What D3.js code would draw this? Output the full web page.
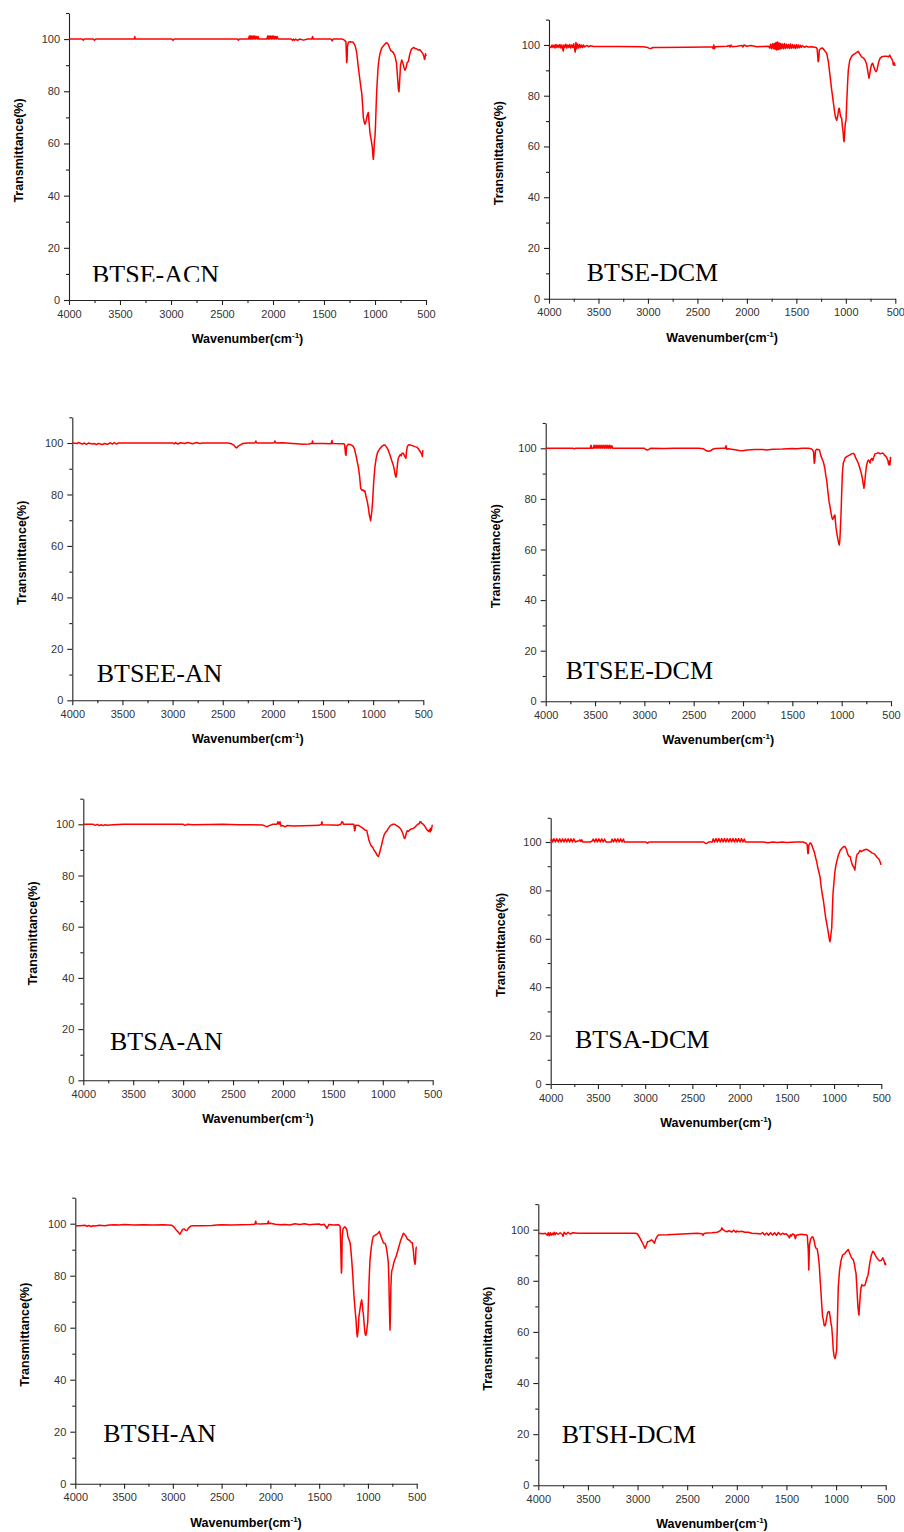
<!DOCTYPE html>
<meta charset="utf-8">

<!-- Load d3.js -->
<script src="https://d3js.org/d3.v7.min.js"></script>

<style>
  body { margin: 0; background: #fff; }
  .tick text { font: 11px Arial, "Liberation Sans", sans-serif; fill: #333; }
  .tick line, .domain { stroke: #222; stroke-width: 1.1; }
  .axis-title { font: bold 12.5px Arial, "Liberation Sans", sans-serif; fill: #000; }
  .sample { font: 26px "Liberation Serif", "Times New Roman", serif; fill: #000; }
  .spectrum { fill: none; stroke: #ff0000; stroke-width: 1.5; stroke-linejoin: round; }
</style>

<!-- Create a div where the graph will take place -->
<div id="chart"></div>

<script>

  // sample names, in panel order (left to right, top to bottom)
  const samples = ["BTSE-ACN", "BTSE-DCM", "BTSEE-AN", "BTSEE-DCM", "BTSA-AN", "BTSA-DCM", "BTSH-AN", "BTSH-DCM"];

  // tick labels
  const xTicks = [4000, 3500, 3000, 2500, 2000, 1500, 1000, 500];
  const xMinor = [3750, 3250, 2750, 2250, 1750, 1250, 750];
  const yTicks = [0, 20, 40, 60, 80, 100];
  const yMinor = [10, 30, 50, 70, 90, 110];

  // spectra: [wavenumber (cm-1), transmittance (%)]
  const btseAcn = [
    [4000,100],[3870,100],[3860,99.6],[3850,100],[3760,100],[3750,99.5],[3740,100],[3360,100],[3355,101],[3350,100],
    [2990,100],[2980,99.5],[2970,100],[2350,100],[2340,99.6],[2330,100],
    [2240,100],[2232,101.2],[2226,100],[2220,101.2],[2214,100],[2208,101.2],[2200,100],[2192,101.2],[2186,100],[2178,101.2],
    [2170,100],[2162,101],[2154,100],[2146,101],[2140,100],
    [2060,100],[2052,101.2],[2046,100],[2040,101.2],[2032,100],[2024,101.2],[2016,100],[2008,101.2],[2000,100],[1992,101.2],
    [1984,100],[1976,101],[1968,100],[1960,101],[1950,100],
    [1820,100],[1810,99.5],[1800,100],[1790,99.5],[1780,100],[1760,99.5],[1740,100],[1700,99.6],[1660,100],[1620,100],
    [1612,101],[1605,100],[1430,100],[1420,99.3],[1410,100],[1320,100],[1300,99.6],
    [1285,99],[1278,91],[1274,92],[1270,97],[1262,98.8],[1240,99],[1215,98.8],[1195,97.5],[1180,95],[1164,89.4],[1150,85],
    [1140,82],[1130,79.2],[1120,74],[1115,70.2],[1105,68],[1098,67.4],[1088,68.5],[1075,71],[1066,71.9],[1058,68],[1049,63.9],
    [1040,62],[1032,60],[1025,58],[1020,55],[1016,53.9],[1012,56],[1006,61],[1000,62.6],[995,67],[990,73],[983,80.5],[970,89],
    [960,92.5],[951,94.5],[935,96.5],[915,97.5],[895,98.4],[885,98.6],[875,98.2],[860,97],[845,95.5],[836,95.4],[820,94.8],
    [804,93.4],[790,91],[780,86],[770,80.5],[765,79.8],[758,84],[750,90],[738,92],[728,91],[715,89],[706,88.1],[695,89],
    [685,91],[673,91.4],[660,94],[645,96],[624,96.8],[605,96.4],[590,96.2],[575,95.8],[560,95.9],[545,95.2],[530,94.3],
    [520,93.2],[515,92.2],[510,92.6],[505,94.4],[500,93.5]
  ];

  const btseDcm = [
    [4000,99.5],[3980,99],[3970,100],[3960,99],[3950,100],[3940,98.8],[3930,100.2],[3920,99],[3910,100],[3900,99],
    [3890,100.2],[3880,98.8],[3870,100],[3860,98.2],[3855,97.6],[3850,100],[3840,99],[3830,100.3],[3820,98.8],[3810,100],
    [3800,99],[3790,100.2],[3780,98.8],[3770,100],[3760,99],[3750,100.5],[3740,98],[3735,97.2],[3728,101],[3720,98.5],
    [3712,100.4],[3700,98.8],[3690,100.2],[3680,99],[3670,100],[3660,99],[3650,100],[3640,99.2],[3620,99.8],[3600,99.3],
    [3580,99.7],[3550,99.4],[3300,99.4],[3050,99.3],[3000,99],[2990,98.7],[2970,98.6],[2950,99],[2900,99],[2600,99.1],
    [2400,99.2],[2350,99.2],[2340,98.6],[2335,100],[2328,98.5],[2320,99.3],[2200,99.5],[2180,99.8],[2170,99.2],[2160,100],
    [2150,99.3],[2100,99.5],[2050,99.8],[2040,99.2],[2030,100],[2000,99.5],[1960,99.8],[1900,99.3],[1850,99.4],
    [1780,99.5],[1770,98.8],[1760,100.3],[1750,98.5],[1740,100.5],[1730,98.6],[1722,100.6],[1714,98.3],[1706,101],[1698,98],
    [1690,101.2],[1682,98.2],[1674,100.8],[1666,98.4],[1658,100.6],[1650,98.6],[1640,100.4],[1630,98.5],[1620,100.6],
    [1610,98.6],[1600,100.3],[1590,98.8],[1580,100.2],[1570,98.6],[1560,100.4],[1550,98.7],[1540,100.2],[1530,98.8],
    [1520,100],[1510,98.6],[1500,100.1],[1490,98.8],[1480,100],[1470,98.9],[1460,99.9],[1450,99],[1440,99.8],[1420,99.1],
    [1400,99.5],[1380,99.2],[1340,99.3],[1300,99],
    [1290,98.5],[1280,93.4],[1274,94],[1268,98],[1250,98.7],[1235,98.8],[1215,97.8],[1193,96.7],[1175,93],[1160,88],
    [1143,82.3],[1125,77],[1109,72.4],[1100,71],[1092,70.3],[1082,72],[1072,74.8],[1066,75],[1058,73],[1050,71.5],
    [1042,71.1],[1035,68],[1028,66],[1022,62.5],[1018,61.9],[1012,65],[1006,69],[998,70.3],[990,78],[982,85],[975,90.1],
    [960,94],[940,95.6],[924,96.2],[900,96.8],[874,97.5],[860,96.5],[840,95.3],[820,94.8],[806,94.1],[790,92.5],[775,89],
    [766,86.9],[758,88.5],[748,91],[738,92.5],[728,92.8],[718,91.5],[705,90],[695,89.5],[685,90.2],[670,93],[655,94.7],
    [635,95.4],[610,95.6],[587,95.6],[570,95.3],[556,96],[545,95],[535,94.5],[525,93.5],[520,92.1],[512,93],[505,92],[500,92.3]
  ];

  const btseeAn = [
    [4000,100],[3950,99.8],[3940,100.2],[3900,99.6],[3880,100],[3860,99.5],[3840,100],[3800,99.6],[3780,99.8],[3760,99.4],
    [3740,99.8],[3700,99.4],[3680,99.8],[3650,99.5],[3620,100.1],[3600,99.6],[3580,100.2],[3560,99.6],[3540,100],[3000,100],
    [2980,99.7],[2970,100.2],[2950,99.6],[2920,100.1],[2880,99.8],[2850,100.2],[2800,99.7],[2760,100.2],[2730,99.8],
    [2700,100],[2450,100],[2420,99.8],[2390,99.2],[2370,98.3],[2361,98.1],[2345,98.8],[2320,99.4],[2300,99.8],[2250,100],
    [2180,100],[2170,100.8],[2160,100],[2100,100],[1990,100],[1980,100.8],[1970,100],[1900,100.1],[1800,99.8],[1700,99.5],
    [1640,99.6],[1610,99.9],[1605,100.8],[1600,99.8],[1500,99.8],[1420,99.7],[1410,101],[1405,99.8],[1300,99.7],
    [1285,99.5],[1275,95.5],[1270,95.3],[1266,98.5],[1250,99.5],[1230,99.4],[1215,99.2],[1198,98.7],[1185,97.5],[1170,95],
    [1160,93],[1148,90.8],[1135,87],[1124,82.3],[1110,81.6],[1100,81.8],[1090,81.2],[1082,81.4],[1070,79],[1060,77.5],
    [1049,75.2],[1040,72.5],[1032,71],[1025,69.8],[1018,72],[1012,74],[1005,77.6],[996,84],[988,88],[982,90.8],[970,94],
    [955,96.5],[932,97.9],[910,98.8],[895,99.2],[882,99.2],[868,98.5],[850,97.3],[832,95.3],[815,93.2],[800,91.5],
    [788,89.5],[780,87.5],[772,86.7],[765,88.5],[757,92],[749,94.1],[740,94.8],[730,95.5],[720,95],[712,96],[699,96],
    [690,95.2],[680,94.5],[673,94.1],[668,96.5],[660,98.5],[650,99.2],[630,99.3],[610,99],[583,98.6],[565,98.4],[550,97.8],
    [540,97.2],[530,96.6],[520,96],[516,95.8],[510,94.8],[505,97],[500,96.8]
  ];

  const btseeDcm = [
    [4000,100],[3720,100],[3710,99.8],[3700,100],[3560,100],[3550,100],[3540,101.2],[3535,100],[3520,100],[3510,101.2],
    [3500,100],[3490,101.2],[3480,100],[3470,101.2],[3460,100],[3450,101.2],[3440,100],[3430,101.2],[3420,100],[3410,101.2],
    [3400,100],[3390,101.2],[3380,100],[3370,101.2],[3360,100],[3350,101.2],[3340,100],[3330,101],[3320,100],[3000,100],
    [2985,99.5],[2970,99.3],[2955,99.6],[2940,100],[2800,99.9],[2700,100],[2450,100],[2400,99.8],[2370,99],[2350,98.8],
    [2330,99],[2310,99.6],[2280,99.9],[2200,100],[2180,100],[2172,101],[2165,99.6],[2150,99.8],[2080,99.4],[2040,99.1],
    [2000,99],[1960,99.3],[1920,99.4],[1880,99.5],[1800,99.5],[1760,99.3],[1700,99.6],[1600,99.7],[1550,99.8],[1500,99.9],
    [1460,99.8],[1400,100],[1340,100],[1310,99.8],
    [1295,99.5],[1285,98.5],[1278,94.1],[1272,95],[1266,99],[1255,99.6],[1240,99.5],[1225,99.3],[1210,97],[1195,95.5],
    [1186,94.7],[1170,92],[1160,89],[1152,87.5],[1140,83],[1128,79],[1118,76.9],[1108,74.5],[1098,72.5],[1091,71.9],
    [1082,72.6],[1075,73.3],[1068,73.6],[1063,71],[1057,68.5],[1051,67],[1045,65.5],[1038,64],[1030,62.5],[1024,61.8],
    [1018,64],[1013,68],[1007,73.6],[1000,82],[993,90],[984,94.1],[965,96.2],[945,96.8],[916,97.4],[900,97.8],[882,98],
    [870,97.5],[855,96],[842,95],[831,94.1],[815,92],[800,90],[790,88],[782,86],[774,84.2],[766,86.5],[758,90],[748,93.2],
    [740,94.5],[730,95.4],[720,95],[712,94.2],[705,95.5],[695,96],[685,95.2],[675,96.5],[662,97.8],[645,98],[630,98.3],
    [610,97.8],[590,98.1],[578,98],[565,97.2],[552,96.8],[540,96],[530,95],[527,94],[520,93.4],[515,95],[510,93.5],
    [505,96.4],[500,96]
  ];

  const btsaAn = [
    [4000,100],[3900,100],[3880,99.6],[3860,100],[3840,99.5],[3820,99.8],[3800,99.5],[3780,99.8],[3760,99.6],[3700,99.8],
    [3600,100],[3000,100],[2980,99.6],[2960,100],[2900,99.8],[2600,100],[2450,99.8],[2300,99.8],[2200,99.7],[2160,99],
    [2150,99.3],[2100,100],[2060,100],[2050,101],[2040,100],[2030,101],[2020,99.3],[2000,99.5],[1980,99],[1960,99.5],
    [1900,99.3],[1800,99.4],[1700,99.5],[1640,99.6],[1615,100],[1610,101],[1605,99.8],[1500,99.7],[1450,99.6],[1420,100],
    [1410,101],[1400,100.8],[1395,100],[1300,100],
    [1290,100],[1282,97.5],[1278,97.8],[1272,99.6],[1262,99.6],[1240,99.5],[1220,99],[1200,98.5],[1180,97.8],[1161,97.6],
    [1150,95.8],[1140,94],[1128,92.6],[1115,91.5],[1100,91],[1090,90],[1078,89.4],[1065,88.5],[1055,87.8],[1045,87.4],
    [1038,88],[1030,89.2],[1020,90.8],[1011,92],[1000,94],[985,96],[970,97],[961,97.2],[945,98.4],[925,99.5],[910,99.8],
    [895,100],[880,100],[865,99.6],[845,99.1],[830,98.6],[815,97.8],[800,96.5],[790,95.2],[783,94.5],[775,94.8],[765,96.5],
    [755,97.5],[744,97.2],[730,97.8],[715,98.2],[694,98.4],[680,98.8],[665,99.4],[650,100],[635,100.2],[628,101],[620,101],
    [612,100.5],[600,100.2],[590,99.8],[575,99],[560,98],[548,97.5],[540,97.2],[530,98],[525,97],[520,98.5],[515,97.6],
    [510,98.5],[505,99.6],[500,99.5]
  ];

  const btsaDcm = [
    [4000,100.5],[3990,101.2],[3980,100],[3965,101.3],[3950,100],[3935,101.3],[3920,100],[3905,101.3],[3890,100],
    [3875,101.3],[3860,100],[3845,101.3],[3830,100],[3815,101.3],[3800,100],[3785,101.3],[3770,100],[3755,101.3],
    [3740,100],[3730,100.2],[3700,100.5],[3690,100.9],[3680,100.2],[3670,100.9],[3660,100],[3580,100],[3560,100.5],
    [3550,101.2],[3535,100],[3520,101.3],[3505,100],[3490,101.3],[3475,100],[3460,101.3],[3445,100],[3430,101.2],
    [3415,100],[3360,100],[3350,101.2],[3335,100],[3320,101.3],[3305,100],[3290,101.3],[3275,100],[3260,101.3],
    [3245,100],[3230,101.2],[3220,100],[2990,100],[2975,99.5],[2960,100],[2380,100],[2360,99.4],[2345,99.5],[2330,100],
    [2290,100],[2280,101.3],[2265,100],[2250,101.4],[2235,100],[2220,101.4],[2205,100],[2190,101.4],[2175,100],
    [2160,101.4],[2145,100],[2130,101.4],[2115,100],[2100,101.4],[2085,100],[2070,101.4],[2055,100],[2040,101.4],
    [2025,100],[2010,101.4],[1995,100],[1980,101.4],[1965,100],[1950,101.2],[1940,100],[1750,100],[1700,99.7],[1650,100],
    [1600,99.8],[1550,100],[1500,99.8],[1400,100],[1330,100],[1300,99.6],
    [1285,99],[1277,95.2],[1273,95.3],[1268,98.5],[1255,99.6],[1240,99.2],[1225,97.5],[1210,96],[1195,93.5],[1184,91.9],
    [1170,89],[1160,87.5],[1149,85.7],[1135,81],[1125,78.5],[1114,76.1],[1100,72],[1090,69],[1078,66.5],[1065,63.5],
    [1055,61],[1048,59.5],[1043,58.8],[1038,60],[1030,63],[1025,64.3],[1018,72],[1012,78],[1008,80.2],[1000,84],[990,88],
    [980,90.5],[972,91.9],[955,94.5],[935,96.5],[915,97.5],[900,98],[884,98.1],[870,97],[855,95],[845,94.2],[831,94],
    [818,92],[806,90.5],[790,89.5],[780,88.4],[772,91],[765,93.5],[755,95],[743,95.3],[725,96.5],[710,96],[695,96.5],
    [675,96.8],[655,97],[635,96.5],[615,96],[600,95.5],[585,95.3],[570,95],[552,94],[540,93.5],[532,93.2],[520,92.5],
    [510,91.5],[505,90.8],[500,91]
  ];

  const btshAn = [
    [4000,99.2],[3950,99.2],[3900,99.4],[3880,99],[3860,99.3],[3840,98.9],[3820,99.2],[3800,99.1],[3750,99.4],[3700,99.2],
    [3650,99.5],[3600,99.6],[3550,99.5],[3500,99.7],[3450,99.6],[3400,99.5],[3300,99.6],[3200,99.5],[3100,99.6],
    [3050,99.5],[3010,99.4],[2990,98.8],[2970,97.8],[2950,97],[2935,96.3],[2927,96],[2915,96.8],[2900,97.8],[2885,98],
    [2870,97.5],[2855,97.4],[2840,98.3],[2820,99],[2800,99.2],[2700,99.2],[2600,99.3],[2550,99.5],[2500,99.6],[2400,99.5],
    [2300,99.6],[2200,99.7],[2160,99.8],[2150,101],[2145,100],[2100,99.9],[2050,100],[2030,100],[2020,101],[2015,100],
    [2000,100.2],[1950,99.8],[1900,99.6],[1850,99.7],[1800,99.5],[1750,100],[1700,99.7],[1650,100],[1600,99.6],
    [1550,99.8],[1500,99.9],[1480,99.5],[1450,99.8],[1430,98.8],[1420,98.2],[1410,99],[1400,99.7],[1350,99.5],[1300,99.6],
    [1285,99],[1278,90],[1272,81],[1268,83],[1264,95],[1255,98],[1240,98.8],[1230,98.6],[1215,97.5],[1205,95],[1195,94],
    [1182,92.5],[1175,90],[1166,86],[1155,80],[1143,72.2],[1132,67],[1122,63],[1115,58.5],[1109,56.5],[1103,58],[1098,60],
    [1093,64],[1088,65.4],[1078,68],[1070,69.8],[1064,70.7],[1058,69],[1052,66.5],[1047,65.4],[1040,62],[1032,58.5],
    [1025,57.2],[1020,57.1],[1015,58],[1009,60],[1002,62],[995,70],[988,78],[979,86],[965,91],[955,93.5],[945,95.1],
    [925,95.6],[905,96],[890,96.6],[883,97],[870,95.6],[855,94],[840,92.6],[825,92.5],[815,91.5],[808,90],[800,88],
    [791,85],[785,78],[780,68],[776,62],[774,59.1],[770,64],[765,75],[760,80],[755,82],[746,82.9],[735,85],[722,86.4],
    [710,87.5],[695,89.5],[680,91.5],[665,93.5],[650,95],[637,96.3],[625,96],[610,95.2],[595,94],[586,93.9],[570,93.4],
    [555,92.8],[545,92.7],[535,90],[528,87],[522,85],[517,84.4],[512,86],[508,90],[503,91],[500,91]
  ];

  const btshDcm = [
    [4000,98.6],[3950,98.4],[3930,98.6],[3910,97.8],[3900,98.8],[3890,97.6],[3880,98.8],[3870,97.8],[3860,98.6],
    [3850,98],[3840,99],[3830,98],[3820,98.8],[3800,98.2],[3780,98.8],[3760,98.2],[3750,97.4],[3740,99],[3720,98.2],
    [3700,99],[3680,98.3],[3650,98.8],[3600,98.6],[3500,98.6],[3300,98.6],[3100,98.6],[3020,98.6],[3000,98.3],[2980,97],
    [2960,95.5],[2940,94],[2925,92.7],[2915,93.5],[2900,95.3],[2880,95.5],[2860,96],[2845,95.5],[2830,94.7],[2815,96.5],
    [2800,97.5],[2790,97.9],[2700,98],[2600,98.2],[2500,98.4],[2400,98.6],[2350,98.4],[2340,97.8],[2330,98.5],[2300,98.7],
    [2250,98.8],[2200,99],[2180,99.3],[2160,99.8],[2150,100.7],[2140,100],[2120,99.5],[2100,99.2],[2080,99.6],[2050,99.1],
    [2030,99.8],[2010,99],[2000,99.5],[1980,99.2],[1950,99.4],[1920,99],[1880,99],[1850,98.6],[1800,98.5],[1760,98.3],
    [1740,98.9],[1720,97.9],[1700,98.7],[1680,97.8],[1660,98.8],[1640,97.9],[1620,98.8],[1600,97.8],[1580,98.9],[1560,98],
    [1540,98.6],[1520,98.2],[1500,98.4],[1480,97.4],[1470,96.8],[1460,98],[1450,97.5],[1440,98.3],[1420,98],[1410,96.5],
    [1400,97.8],[1380,98],[1350,98.2],[1320,98],[1300,98],
    [1290,97.6],[1280,92],[1275,84.2],[1272,88],[1268,94],[1255,96.5],[1240,97.2],[1232,97],[1220,95.5],[1210,93.5],
    [1202,92.7],[1190,92.5],[1180,90],[1170,86.5],[1160,80],[1155,77.4],[1145,71],[1136,66],[1128,64.7],[1120,62.6],
    [1112,62.4],[1105,63],[1095,65.5],[1085,67.5],[1075,68],[1068,67.9],[1060,66],[1050,63],[1044,62],[1036,58],
    [1028,52.9],[1020,50.5],[1011,49.6],[1004,50.5],[994,53],[986,65],[978,77.4],[965,84],[950,88],[935,90],[927,90.2],
    [915,90.5],[900,91.3],[888,91.8],[877,92.2],[865,91],[850,89.5],[835,88.5],[827,88.3],[815,86.5],[805,84],[799,83],
    [790,77],[780,70],[772,67],[769,66.6],[764,70],[755,75],[748,77.4],[740,78.5],[730,78],[720,78.2],[709,78.2],
    [700,79.5],[690,81],[680,82],[675,83],[660,87],[645,90],[631,91.5],[620,91.2],[605,90],[590,89],[575,88.3],
    [560,87.8],[545,88],[535,88.6],[530,89],[524,88.5],[515,87.5],[508,86.5],[504,87],[500,86]
  ];

  const spectra = [btseAcn, btseDcm, btseeAn, btseeDcm, btsaAn, btsaDcm, btshAn, btshDcm];

  // where each panel sits on the page (axis box + sample label)
  const frames = [
    {left: 69,    right: 426,   top: 13,    bottom: 300,    lx: 92,    ly: 283.4,  cut: 281.7},
    {left: 549,   right: 895.3, top: 19.6,  bottom: 298.7,  lx: 586.7, ly: 281},
    {left: 72.3,  right: 423.3, top: 417.3, bottom: 700.3,  lx: 96.7,  ly: 681.7},
    {left: 545.7, right: 891,   top: 423,   bottom: 701.3,  lx: 565.7, ly: 679.3},
    {left: 83.3,  right: 432.7, top: 798.7, bottom: 1080.3, lx: 110,   ly: 1050},
    {left: 550.7, right: 881.3, top: 817.8, bottom: 1084,   lx: 575,   ly: 1048.3},
    {left: 75.3,  right: 416.7, top: 1197.7,bottom: 1483.7, lx: 103.3, ly: 1442.3},
    {left: 538.3, right: 885.7, top: 1204.1,bottom: 1485.3, lx: 561.7, ly: 1443.3}
  ];

  const svg = d3.select("#chart")
    .append("svg")
      .attr("width", 904)
      .attr("height", 1532);

  const fmt = d3.format("d");

  frames.forEach((f, i) => {
    const g = svg.append("g");

    const x = d3.scaleLinear().domain([4000, 500]).range([f.left, f.right]);
    const y = d3.scaleLinear().domain([0, 110]).range([f.bottom, f.top]);

    // X axis, major + minor ticks
    g.append("g")
      .attr("transform", `translate(0,${f.bottom})`)
      .call(d3.axisBottom(x).tickValues(xTicks).tickFormat(fmt).tickSize(5).tickSizeOuter(0).tickPadding(5));
    g.append("g")
      .attr("transform", `translate(0,${f.bottom})`)
      .call(d3.axisBottom(x).tickValues(xMinor).tickSize(3).tickFormat(""))
      .select(".domain").remove();

    // Y axis, major + minor ticks
    g.append("g")
      .attr("transform", `translate(${f.left},0)`)
      .call(d3.axisLeft(y).tickValues(yTicks).tickFormat(fmt).tickSize(5).tickSizeOuter(0).tickPadding(4));
    g.append("g")
      .attr("transform", `translate(${f.left},0)`)
      .call(d3.axisLeft(y).tickValues(yMinor).tickSize(3).tickFormat(""))
      .select(".domain").remove();

    // axis titles
    g.append("text")
      .attr("class", "axis-title")
      .attr("text-anchor", "middle")
      .attr("dominant-baseline", "central")
      .attr("transform", `translate(${f.left - 50},${(f.top + f.bottom) / 2 - 6}) rotate(-90)`)
      .text("Transmittance(%)");

    const xt = g.append("text")
      .attr("class", "axis-title")
      .attr("text-anchor", "middle")
      .attr("x", (f.left + f.right) / 2)
      .attr("y", f.bottom + 43);
    xt.append("tspan").text("Wavenumber(cm");
    xt.append("tspan").attr("dy", -5).style("font-size", "8px").text("-1");
    xt.append("tspan").attr("dy", 5).text(")");

    // the spectrum
    const line = d3.line()
      .x(d => x(d[0]))
      .y(d => y(d[1]));
    g.append("path")
      .datum(spectra[i])
      .attr("class", "spectrum")
      .attr("d", line);

    // sample name (the first one is cropped at the bottom in the original)
    const label = g.append("text")
      .attr("class", "sample")
      .attr("x", f.lx)
      .attr("y", f.ly)
      .text(samples[i]);
    if (f.cut) {
      svg.append("clipPath").attr("id", "cut" + i)
        .append("rect")
          .attr("x", 0).attr("y", 0).attr("width", 904).attr("height", f.cut);
      label.attr("clip-path", `url(#cut${i})`);
    }
  });

</script>
